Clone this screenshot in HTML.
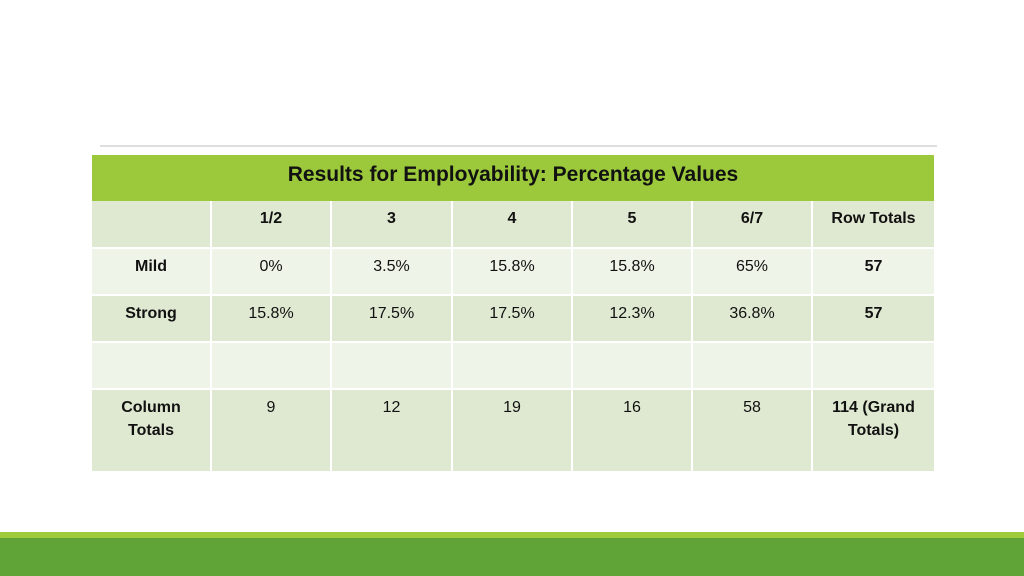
<!DOCTYPE html>
<html><head><meta charset="utf-8"><style>
body{margin:0;width:1024px;height:576px;position:relative;background:#fff;font-family:"Liberation Sans",sans-serif;overflow:hidden}
.c{position:absolute;box-sizing:border-box;text-align:center;font-size:16px;line-height:23px;padding-top:6px;color:#111}
.b{font-weight:bold}
.d{background:#dfe9d1}.l{background:#eef4e8}
</style></head><body>
<div style="position:absolute;left:100px;top:145px;width:837px;height:2px;background:#dedede"></div>
<div style="position:absolute;left:92px;top:155px;width:842px;height:46px;background:#9cc93b;font-weight:bold;font-size:21px;line-height:40px;text-align:center;color:#111">Results for Employability: Percentage Values</div>
<div id="t"></div>
<div style="position:absolute;left:0;top:532px;width:1024px;height:6px;background:#9fcb3a"></div>
<div style="position:absolute;left:0;top:538px;width:1024px;height:38px;background:#60a336"></div>
<script>
const rows=[
 ["","1/2","3","4","5","6/7","Row Totals"],
 ["Mild","0%","3.5%","15.8%","15.8%","65%","57"],
 ["Strong","15.8%","17.5%","17.5%","12.3%","36.8%","57"],
 ["","","","","","",""],
 ["Column<br>Totals","9","12","19","16","58","114 (Grand<br>Totals)"]
];
const tops=[201,249,296,343,390,471];
const xs=[92,212,332,453,573,693,813,934];
const t=document.getElementById('t');
rows.forEach((r,i)=>{r.forEach((v,j)=>{
 const d=document.createElement('div');
 
 
 const bold=(i===0||j===0||j===6);
 d.className='c '+(i%2===0?'d':'l')+(bold?' b':'');
 d.style.left=xs[j]+'px';d.style.top=tops[i]+'px';
 d.style.width=(xs[j+1]-xs[j]-(j<6?2:0))+'px';
 d.style.height=(tops[i+1]-tops[i]-(i<4?2:0))+'px';
 d.innerHTML=v;t.appendChild(d);
});});
</script>
</body></html>
